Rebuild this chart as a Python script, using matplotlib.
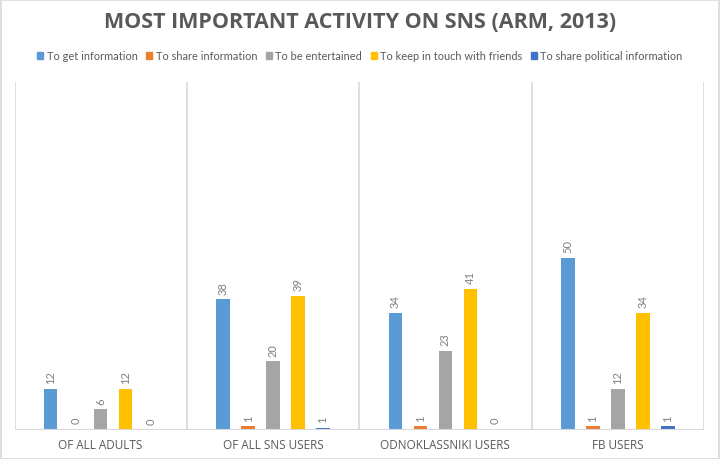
import matplotlib
matplotlib.use("Agg")
import matplotlib.pyplot as plt
import numpy as np
from matplotlib.patches import Rectangle

categories = ["OF ALL ADULTS", "OF ALL SNS USERS", "ODNOKLASSNIKI USERS", "FB USERS"]
series = ["To get information", "To share information", "To be entertained",
          "To keep in touch with friends", "To share political information"]
get_info = [12, 38, 34, 50]
share_info = [0.3, 1.1, 1.1, 1.1]
entertained = [6, 20, 23, 12]
keep_touch = [12, 39, 41, 34]
political = [0.0, 0.6, 0.3, 1.1]
colors = ["#5B9BD5", "#ED7D31", "#A5A5A5", "#FFC000", "#4472C4"]

data = [get_info, share_info, entertained, keep_touch, political]

fig = plt.figure(figsize=(7.2, 4.6), dpi=100)
fig.patches.append(Rectangle((0.001, 0.001), 0.998, 0.997, transform=fig.transFigure,
                             fill=False, edgecolor="#D9D9D9", linewidth=1.2))
ax = fig.add_axes([14.5 / 720, 1 - 431 / 460, (704 - 14.5) / 720, (431 - 83) / 460])

n = len(categories)
x = np.arange(n)
step = 0.145
bw = 0.078
for i, (vals, c) in enumerate(zip(data, colors)):
    pos = x + (i - 2) * step
    ax.bar(pos, vals, width=bw, color=c, zorder=3)
    for p, v in zip(pos, vals):
        ax.text(p, v + 1.6, f"{v:.0f}", rotation=90, ha="center", va="bottom",
                fontsize=8, color="#7F7F7F", family="Lato")

ax.set_xlim(-0.5, n - 0.5)
ax.set_ylim(0, 101)
for b in np.arange(-0.5, n, 1.0):
    ax.axvline(b, color="#D9D9D9", lw=1.2, zorder=1)
ax.axhline(0, color="#D9D9D9", lw=1.5, zorder=4)
for s in ax.spines.values():
    s.set_visible(False)
ax.set_yticks([])
ax.set_xticks(x)
ax.set_xticklabels(categories, family="Open Sans", fontsize=8.5, color="#595959")
ax.tick_params(axis="x", length=0, pad=6)

fig.text(0.5, 1 - 22 / 460, "MOST IMPORTANT ACTIVITY ON SNS (ARM, 2013)", ha="center", va="center",
         fontsize=15.5, fontweight="bold", color="#595959", family="Open Sans")

handles = [Rectangle((0, 0), 1, 1, color=c) for c in colors]
fig.legend(handles, series, loc="center", bbox_to_anchor=(0.5, 1 - 57 / 460), ncol=5,
           frameon=False, prop={"family": "Lato", "size": 7.9}, labelcolor="#595959",
           handlelength=0.55, handleheight=0.6, handletextpad=0.3, columnspacing=0.8)

fig.savefig("out.png", dpi=100)
